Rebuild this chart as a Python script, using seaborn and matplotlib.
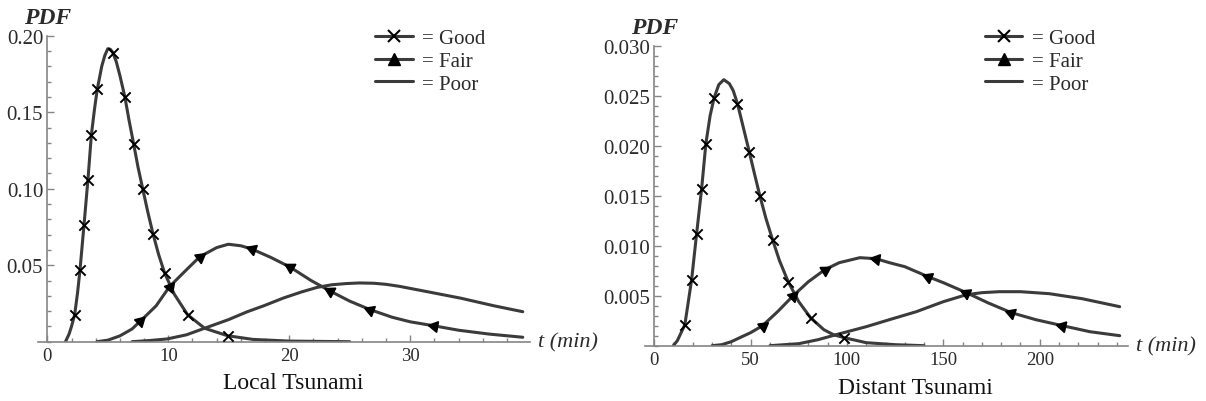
import numpy as np
import pandas as pd
import matplotlib
matplotlib.use("Agg")
import matplotlib.pyplot as plt
import seaborn as sns
from matplotlib.lines import Line2D
from matplotlib.ticker import MultipleLocator, FixedLocator, FormatStrFormatter

sns.set_theme(style="white")
plt.rcParams["font.family"] = ["Liberation Serif", "DejaVu Serif"]

# ── Local tsunami curves (t in min, PDF) ───────────
local_good_t = [1.5, 1.8, 2.0, 2.26, 2.5, 2.7, 3.03, 3.36, 3.64, 3.9, 4.13, 4.5, 4.75, 5.0,
                5.2, 5.42, 5.7, 6.0, 6.41, 6.75, 7.13, 7.5, 7.9, 8.3, 8.73, 9.2, 9.7, 10.5,
                11.6, 13.0, 14.9, 17.0, 20.0, 25.0]
local_good_v = [0.0, 0.005, 0.010, 0.0176, 0.032, 0.0467, 0.076, 0.106, 0.135, 0.152, 0.165,
                0.180, 0.187, 0.1915, 0.1912, 0.189, 0.183, 0.174, 0.160, 0.145, 0.1295,
                0.114, 0.0995, 0.085, 0.0707, 0.057, 0.0448, 0.031, 0.0176, 0.0088, 0.0039,
                0.0015, 0.0004, 0.0]

local_fair_t = [4.1, 5.0, 6.0, 7.0, 7.7, 9.0, 10.1, 11.5, 12.6, 14.0, 14.96, 16.0, 16.9, 18.5,
                20.1, 21.8, 23.4, 25.0, 26.7, 28.5, 30.0, 31.95, 34.0, 36.5, 39.3]
local_fair_v = [0.0, 0.001, 0.0038, 0.0083, 0.0135, 0.0235, 0.036, 0.047, 0.0555, 0.0615,
                0.0637, 0.0627, 0.0606, 0.055, 0.0486, 0.040, 0.033, 0.0265, 0.0209, 0.016,
                0.013, 0.0104, 0.0075, 0.005, 0.0029]

local_poor_t = [7.0, 8.5, 9.9, 11.5, 13.0, 15.0, 16.5, 17.9, 19.5, 21.0, 22.3, 23.5, 24.7,
                25.8, 27.0, 28.0, 29.1, 31.4, 34.2, 36.9, 39.3]
local_poor_v = [0.0, 0.0008, 0.0018, 0.0045, 0.0088, 0.0145, 0.0195, 0.0235, 0.0285, 0.0325,
                0.0355, 0.0372, 0.038, 0.0384, 0.0382, 0.0375, 0.0362, 0.0327, 0.0284,
                0.0235, 0.0196]

local_good_mk_t = [2.26, 2.7, 3.03, 3.36, 3.64, 4.13, 5.42, 6.41, 7.13, 7.9, 8.73, 9.7, 11.6, 14.9]
local_good_mk_v = [0.0176, 0.0467, 0.076, 0.106, 0.135, 0.165, 0.189, 0.160, 0.1295, 0.0995,
                   0.0707, 0.0448, 0.0176, 0.0039]
local_fair_mk_t = [7.7, 10.1, 12.6, 16.9, 20.1, 23.4, 26.7, 31.95]
local_fair_mk_v = [0.0135, 0.036, 0.0555, 0.0606, 0.0486, 0.033, 0.0209, 0.0104]

# ── Distant tsunami curves ─────────────────────────
dist_good_t = [9.9, 12.0, 15.9, 19.4, 22.0, 24.6, 26.8, 29.0, 31.1, 33.5, 36.1, 39.0, 41.0,
               43.2, 46.0, 49.3, 52.0, 54.8, 58.0, 61.4, 65.0, 69.5, 75.0, 81.1, 88.0, 93.0,
               98.5, 110.0, 125.0, 140.0]
dist_good_v = [0.0, 0.0005, 0.0021, 0.0066, 0.0112, 0.0157, 0.0202, 0.0230, 0.0248, 0.0261,
               0.0266, 0.0262, 0.0255, 0.0242, 0.0220, 0.0194, 0.0172, 0.0150, 0.0127,
               0.0106, 0.0085, 0.0064, 0.0044, 0.0028, 0.0016, 0.0011, 0.0008, 0.0003,
               0.0001, 0.0]

dist_fair_t = [30.0, 35.0, 40.0, 44.4, 50.0, 56.2, 64.0, 72.1, 80.0, 88.5, 96.0, 106.7, 115.0,
               122.0, 130.0, 142.1, 150.0, 162.0, 173.0, 185.3, 198.0, 211.8, 226.0, 241.5]
dist_fair_v = [0.0, 0.0001, 0.0004, 0.0008, 0.0013, 0.0020, 0.0034, 0.0050, 0.0064, 0.0076,
               0.0083, 0.0088, 0.0087, 0.0083, 0.0079, 0.0069, 0.0063, 0.0053, 0.0043,
               0.0033, 0.0026, 0.0020, 0.0014, 0.0010]

dist_poor_t = [60.0, 75.0, 85.0, 96.3, 110.0, 122.0, 136.0, 150.0, 162.0, 170.0, 179.0,
               190.0, 205.0, 222.0, 241.5]
dist_poor_v = [0.0, 0.0002, 0.0006, 0.0012, 0.0019, 0.0026, 0.0034, 0.0044, 0.0051, 0.0053,
               0.0054, 0.0054, 0.0052, 0.0047, 0.0039]

dist_good_mk_t = [15.9, 19.4, 22.0, 24.6, 26.8, 31.1, 43.2, 49.3, 54.8, 61.4, 69.5, 81.1, 98.5]
dist_good_mk_v = [0.0021, 0.0066, 0.0112, 0.0157, 0.0202, 0.0248, 0.0242, 0.0194, 0.0150,
                  0.0106, 0.0064, 0.0028, 0.0008]
dist_fair_mk_t = [56.2, 72.1, 88.5, 115.0, 142.1, 162.0, 185.3, 211.8]
dist_fair_mk_v = [0.0020, 0.0050, 0.0076, 0.0087, 0.0069, 0.0053, 0.0033, 0.0020]

grades = ["Good", "Fair", "Poor"]
legend_labels = ["= Good", "= Fair", "= Poor"]

LINE = "#3b3b3b"
AXIS = "#858585"
TXT = "#2b2b2b"
LW = 2.2


def curves_df(ts, vs):
    frames = [pd.DataFrame({"t": t, "pdf": v, "grade": g}) for g, t, v in zip(grades, ts, vs)]
    return pd.concat(frames, ignore_index=True)


def tri_angles(ax, ct, cv, mt, mv):
    mt = np.asarray(mt)
    d = 0.3 * (ct[-1] - ct[0]) / 100
    p0 = ax.transData.transform(np.column_stack([mt - d, np.interp(mt - d, ct, cv)]))
    p1 = ax.transData.transform(np.column_stack([mt + d, np.interp(mt + d, ct, cv)]))
    dx, dy = (p1 - p0).T
    ang = np.degrees(np.arctan2(dy, dx))
    ang[dy < 0] += 180
    return ang


def draw_panel(ax, ts, vs, gmk, fmk, xlim, ylim, xmaj, xmin, ymaj, ymin, yfmt, lx):
    ax.set_xlim(*xlim)
    ax.set_ylim(*ylim)
    df = curves_df(ts, vs)
    sns.lineplot(data=df, x="t", y="pdf", hue="grade", palette={g: LINE for g in grades},
                 estimator=None, sort=False, lw=LW, ax=ax, legend=False)
    sns.scatterplot(x=gmk[0], y=gmk[1], marker="x", s=55, color="black", linewidth=1.4, ax=ax,
                    zorder=4)
    for t, v, a in zip(fmk[0], fmk[1], tri_angles(ax, ts[1], vs[1], fmk[0], fmk[1])):
        ax.plot([t], [v], ls="none", marker=(3, 0, a - 90), ms=9, color="black", zorder=4)

    ax.set_xlabel("")
    ax.set_ylabel("")
    ax.spines[["top", "right"]].set_visible(False)
    ax.spines["left"].set_position(("data", 0))
    for s in ("left", "bottom"):
        ax.spines[s].set_color(AXIS)
        ax.spines[s].set_linewidth(1.2)
    ax.xaxis.set_major_locator(FixedLocator(xmaj))
    ax.xaxis.set_minor_locator(MultipleLocator(xmin))
    ax.yaxis.set_major_locator(FixedLocator(ymaj))
    ax.yaxis.set_minor_locator(MultipleLocator(ymin))
    ax.yaxis.set_major_formatter(FormatStrFormatter(yfmt))
    ax.tick_params(which="both", direction="in", bottom=True, left=True, color=AXIS,
                   width=1.0, labelcolor=TXT)
    ax.tick_params(which="major", length=5)
    ax.tick_params(which="minor", length=3)
    ax.tick_params(axis="x", labelsize=13.5, pad=4)
    ax.tick_params(axis="y", labelsize=15, pad=3)
    ax.grid(False)

    ax.annotate("PDF", xy=(0, ylim[1]), xytext=(0, 13), textcoords="offset points",
                ha="center", va="center", fontsize=17, fontweight="bold", fontstyle="italic",
                color=TXT)
    ax.annotate("t (min)", xy=(1, 0), xycoords="axes fraction", xytext=(6, 0),
                textcoords="offset points", ha="left", va="center", fontsize=16,
                fontstyle="italic", color=TXT)

    handles = [Line2D([], [], color=LINE, lw=LW, marker="x", ms=8, mec="black", mew=1.5),
               Line2D([], [], color=LINE, lw=LW, marker="^", ms=9, mec="black", mfc="black"),
               Line2D([], [], color=LINE, lw=LW)]
    leg = ax.legend(handles, legend_labels, loc="upper left", bbox_to_anchor=(lx, 0.926),
                    bbox_transform=fig.transFigure, frameon=False, fontsize=15,
                    handlelength=1.8, handletextpad=0.45, labelspacing=0.15, borderpad=0,
                    borderaxespad=0)
    for t in leg.get_texts():
        t.set_color(TXT)


fig = plt.figure(figsize=(12.06, 4.02), dpi=100)
ax1 = fig.add_axes([0.0312, 0.1475, 0.4083, 0.7612])
ax2 = fig.add_axes([0.5348, 0.1376, 0.4005, 0.7463])

draw_panel(ax1, [local_good_t, local_fair_t, local_poor_t],
           [local_good_v, local_fair_v, local_poor_v],
           (local_good_mk_t, local_good_mk_v), (local_fair_mk_t, local_fair_mk_v),
           (-0.8, 39.9), (0, 0.2), [0, 10, 20, 30], 2, [0.05, 0.10, 0.15, 0.20], 0.01,
           "%.2f", 0.311)
draw_panel(ax2, [dist_good_t, dist_fair_t, dist_poor_t],
           [dist_good_v, dist_fair_v, dist_poor_v],
           (dist_good_mk_t, dist_good_mk_v), (dist_fair_mk_t, dist_fair_mk_v),
           (-4.8, 245.8), (0, 0.030), [0, 50, 100, 150, 200], 10,
           [0.005, 0.010, 0.015, 0.020, 0.025, 0.030], 0.001, "%.3f", 0.8167)

fig.text(293 / 1206, 1 - 384 / 402, "Local Tsunami", ha="center", va="center", fontsize=17,
         color="#111111")
fig.text(915 / 1206, 1 - 389 / 402, "Distant Tsunami", ha="center", va="center", fontsize=17,
         color="#111111")

fig.savefig("out.png", dpi=100)
